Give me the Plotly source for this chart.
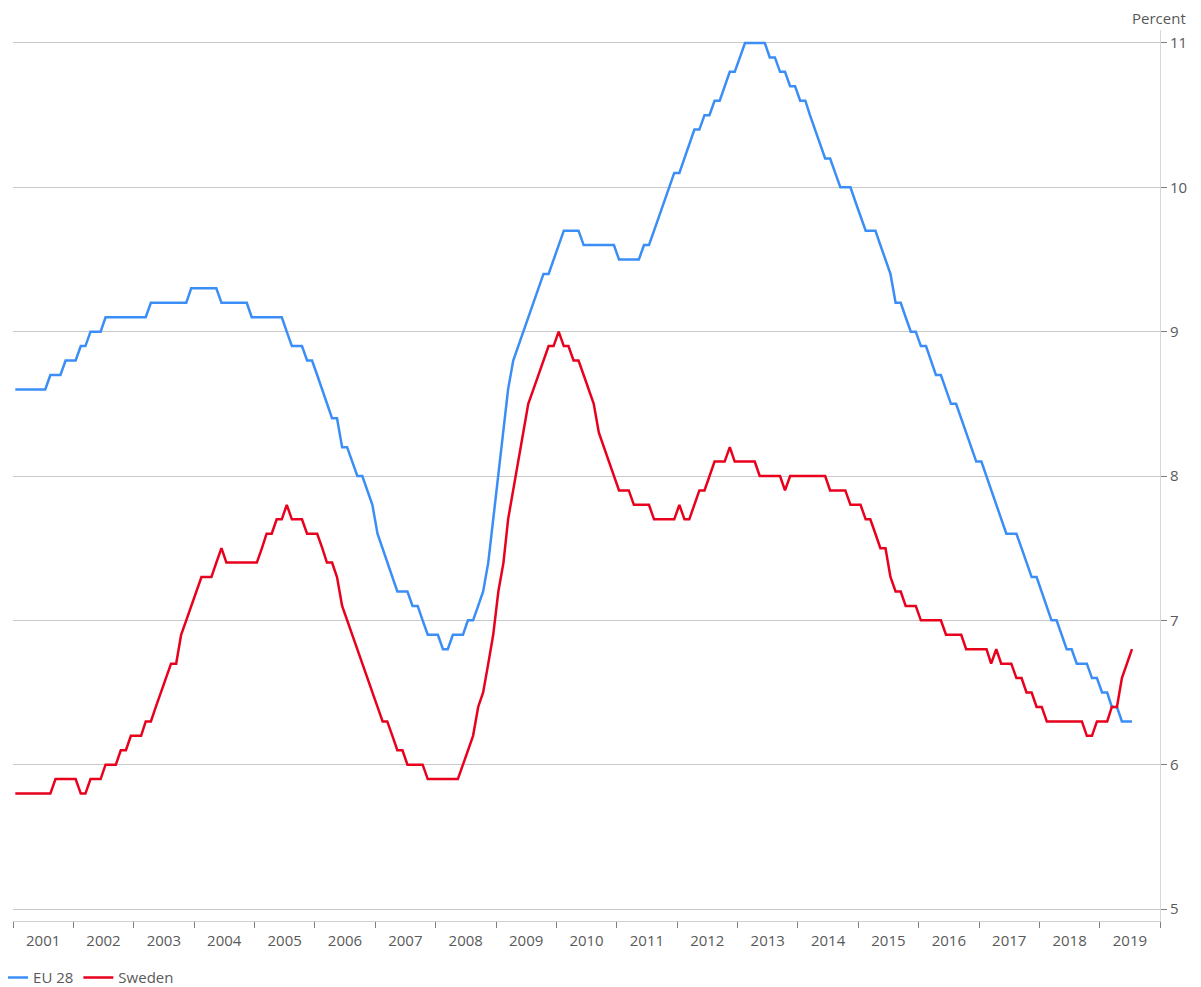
import pandas as pd
import plotly.graph_objects as go

# Monthly unemployment rate (percent), Jan 2001 - Jul 2019
start_month = "2001-01-01"
n_months = 223

eu28 = [
    8.6, 8.6, 8.6, 8.6, 8.6, 8.6, 8.6, 8.7, 8.7, 8.7, 8.8, 8.8,        # 2001
    8.8, 8.9, 8.9, 9.0, 9.0, 9.0, 9.1, 9.1, 9.1, 9.1, 9.1, 9.1,        # 2002
    9.1, 9.1, 9.1, 9.2, 9.2, 9.2, 9.2, 9.2, 9.2, 9.2, 9.2, 9.3,        # 2003
    9.3, 9.3, 9.3, 9.3, 9.3, 9.2, 9.2, 9.2, 9.2, 9.2, 9.2, 9.1,        # 2004
    9.1, 9.1, 9.1, 9.1, 9.1, 9.1, 9.0, 8.9, 8.9, 8.9, 8.8, 8.8,        # 2005
    8.7, 8.6, 8.5, 8.4, 8.4, 8.2, 8.2, 8.1, 8.0, 8.0, 7.9, 7.8,        # 2006
    7.6, 7.5, 7.4, 7.3, 7.2, 7.2, 7.2, 7.1, 7.1, 7.0, 6.9, 6.9,        # 2007
    6.9, 6.8, 6.8, 6.9, 6.9, 6.9, 7.0, 7.0, 7.1, 7.2, 7.4, 7.7,        # 2008
    8.0, 8.3, 8.6, 8.8, 8.9, 9.0, 9.1, 9.2, 9.3, 9.4, 9.4, 9.5,        # 2009
    9.6, 9.7, 9.7, 9.7, 9.7, 9.6, 9.6, 9.6, 9.6, 9.6, 9.6, 9.6,        # 2010
    9.5, 9.5, 9.5, 9.5, 9.5, 9.6, 9.6, 9.7, 9.8, 9.9, 10.0, 10.1,      # 2011
    10.1, 10.2, 10.3, 10.4, 10.4, 10.5, 10.5, 10.6, 10.6, 10.7, 10.8, 10.8,  # 2012
    10.9, 11.0, 11.0, 11.0, 11.0, 11.0, 10.9, 10.9, 10.8, 10.8, 10.7, 10.7,  # 2013
    10.6, 10.6, 10.5, 10.4, 10.3, 10.2, 10.2, 10.1, 10.0, 10.0, 10.0, 9.9,   # 2014
    9.8, 9.7, 9.7, 9.7, 9.6, 9.5, 9.4, 9.2, 9.2, 9.1, 9.0, 9.0,        # 2015
    8.9, 8.9, 8.8, 8.7, 8.7, 8.6, 8.5, 8.5, 8.4, 8.3, 8.2, 8.1,        # 2016
    8.1, 8.0, 7.9, 7.8, 7.7, 7.6, 7.6, 7.6, 7.5, 7.4, 7.3, 7.3,        # 2017
    7.2, 7.1, 7.0, 7.0, 6.9, 6.8, 6.8, 6.7, 6.7, 6.7, 6.6, 6.6,        # 2018
    6.5, 6.5, 6.4, 6.4, 6.3, 6.3, 6.3,                                  # 2019
]

sweden = [
    5.8, 5.8, 5.8, 5.8, 5.8, 5.8, 5.8, 5.8, 5.9, 5.9, 5.9, 5.9,        # 2001
    5.9, 5.8, 5.8, 5.9, 5.9, 5.9, 6.0, 6.0, 6.0, 6.1, 6.1, 6.2,        # 2002
    6.2, 6.2, 6.3, 6.3, 6.4, 6.5, 6.6, 6.7, 6.7, 6.9, 7.0, 7.1,        # 2003
    7.2, 7.3, 7.3, 7.3, 7.4, 7.5, 7.4, 7.4, 7.4, 7.4, 7.4, 7.4,        # 2004
    7.4, 7.5, 7.6, 7.6, 7.7, 7.7, 7.8, 7.7, 7.7, 7.7, 7.6, 7.6,        # 2005
    7.6, 7.5, 7.4, 7.4, 7.3, 7.1, 7.0, 6.9, 6.8, 6.7, 6.6, 6.5,        # 2006
    6.4, 6.3, 6.3, 6.2, 6.1, 6.1, 6.0, 6.0, 6.0, 6.0, 5.9, 5.9,        # 2007
    5.9, 5.9, 5.9, 5.9, 5.9, 6.0, 6.1, 6.2, 6.4, 6.5, 6.7, 6.9,        # 2008
    7.2, 7.4, 7.7, 7.9, 8.1, 8.3, 8.5, 8.6, 8.7, 8.8, 8.9, 8.9,        # 2009
    9.0, 8.9, 8.9, 8.8, 8.8, 8.7, 8.6, 8.5, 8.3, 8.2, 8.1, 8.0,        # 2010
    7.9, 7.9, 7.9, 7.8, 7.8, 7.8, 7.8, 7.7, 7.7, 7.7, 7.7, 7.7,        # 2011
    7.8, 7.7, 7.7, 7.8, 7.9, 7.9, 8.0, 8.1, 8.1, 8.1, 8.2, 8.1,        # 2012
    8.1, 8.1, 8.1, 8.1, 8.0, 8.0, 8.0, 8.0, 8.0, 7.9, 8.0, 8.0,        # 2013
    8.0, 8.0, 8.0, 8.0, 8.0, 8.0, 7.9, 7.9, 7.9, 7.9, 7.8, 7.8,        # 2014
    7.8, 7.7, 7.7, 7.6, 7.5, 7.5, 7.3, 7.2, 7.2, 7.1, 7.1, 7.1,        # 2015
    7.0, 7.0, 7.0, 7.0, 7.0, 6.9, 6.9, 6.9, 6.9, 6.8, 6.8, 6.8,        # 2016
    6.8, 6.8, 6.7, 6.8, 6.7, 6.7, 6.7, 6.6, 6.6, 6.5, 6.5, 6.4,        # 2017
    6.4, 6.3, 6.3, 6.3, 6.3, 6.3, 6.3, 6.3, 6.3, 6.2, 6.2, 6.3,        # 2018
    6.3, 6.3, 6.4, 6.4, 6.6, 6.7, 6.8,                                  # 2019
]

series_names = ["EU 28", "Sweden"]
series_colors = ["#3a8ef6", "#e8001c"]

months = pd.date_range(start_month, periods=n_months, freq="MS") + pd.Timedelta(days=14)

FONT = "Open Sans, Noto Sans, sans-serif"
TXT = "#595959"

fig = go.Figure()
for name, vals, col in zip(series_names, [eu28, sweden], series_colors):
    fig.add_trace(go.Scatter(x=months, y=vals, mode="lines", name=name,
                             line=dict(color=col, width=2.5)))

# page body has an 8px default margin, so the figure is sized to fit inside it
fig.update_layout(
    width=1193, height=979,
    margin=dict(l=5, r=41, t=22, b=66, autoexpand=False),
    paper_bgcolor="white", plot_bgcolor="white",
    font=dict(family=FONT, size=15, color=TXT),
    showlegend=True,
    legend=dict(orientation="h", xref="paper", yref="container",
                x=-0.0174, y=0.0095, xanchor="left", yanchor="middle",
                font=dict(size=15, color=TXT), itemwidth=30,
                bgcolor="rgba(0,0,0,0)", tracegroupgap=0),
    xaxis=dict(type="date", range=["2001-01-01", "2019-12-31 12:00"],
               tick0="2001-01-01", dtick="M12", ticklabelmode="period", tickformat="%Y",
               ticks="outside", ticklen=6, tickcolor="#7f7f7f", tickwidth=1,
               showline=True, linecolor="#d0d0d0", linewidth=1,
               showgrid=False, zeroline=False, automargin=False,
               tickfont=dict(size=15, color=TXT)),
    yaxis=dict(side="right", range=[4.917, 11.09], tick0=5, dtick=1,
               showgrid=True, gridcolor="#c9c9c9", gridwidth=1,
               ticks="outside", ticklen=6, tickcolor="#7f7f7f",
               showline=True, linecolor="#d9d9d9", linewidth=1,
               zeroline=False, automargin=False,
               tickfont=dict(size=15, color=TXT)),
    annotations=[dict(text="Percent", xref="paper", yref="paper",
                      x=1.0244, y=1.0135, xanchor="right", yanchor="middle",
                      showarrow=False, font=dict(size=15, color=TXT))],
)

fig.write_html("out.html")
